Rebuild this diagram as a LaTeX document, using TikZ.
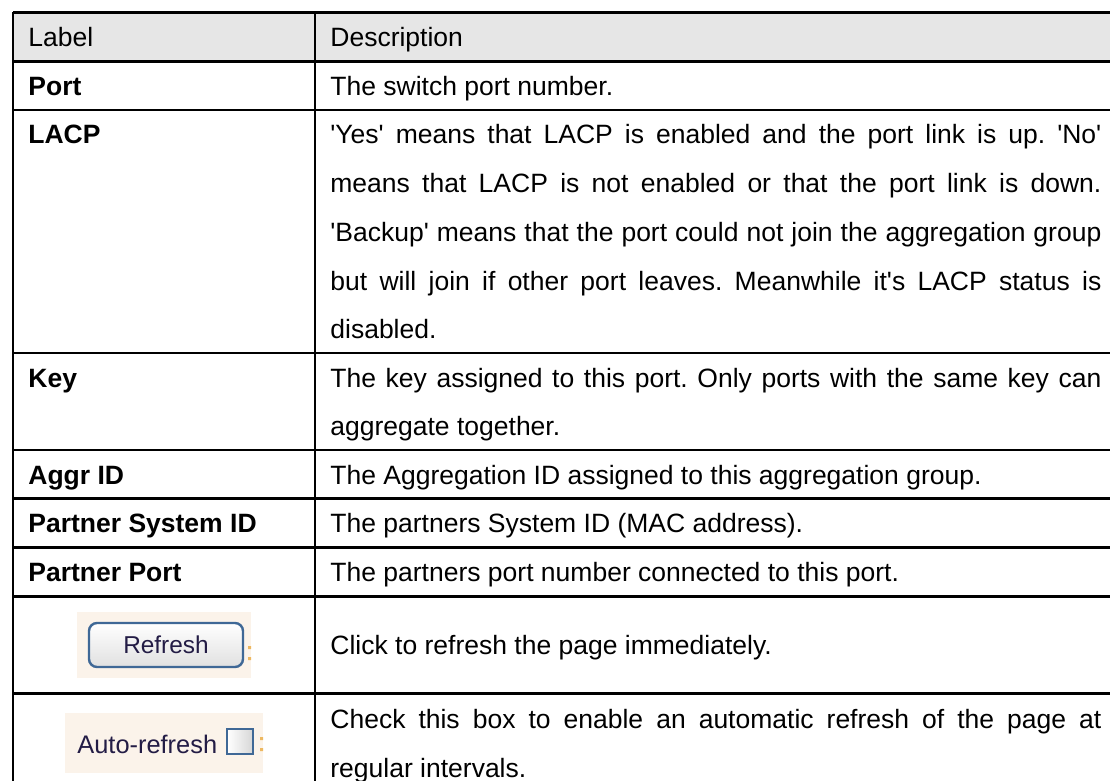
\documentclass[tikz,border=0pt]{standalone}
\usepackage{fontspec}
\setmainfont{Liberation Sans}[Ligatures=TeXOff]
\frenchspacing
\definecolor{hdgray}{HTML}{E6E6E6}
\definecolor{shotbg}{HTML}{FBF3EA}
\definecolor{btnblue}{HTML}{3F6896}
\definecolor{btntext}{HTML}{231C45}
\definecolor{colonorg}{HTML}{EDB860}
\newcommand{\jline}[1]{\makebox[385.5pt][s]{#1}}
\tikzset{
  cell/.style={anchor=base west, inner sep=0, font=\fontsize{13.25pt}{24pt}\selectfont},
  lbl/.style={cell, font=\fontsize{13.25pt}{24pt}\selectfont\bfseries},
  rule/.style={line width=1.4pt},
  shot/.style={fill=shotbg, draw=none},
}

\begin{document}
\begin{tikzpicture}[x=0.5pt, y=-0.5pt]
\useasboundingbox (0,0) rectangle (1110,781);
\clip (0,0) rectangle (1110,781);
% Header
\fill[hdgray] (13,12.7) rectangle (1120,61.3);
\node[cell] (hdlabel) at (28,46.7) {Label};
\node[cell] (hddesc) at (330,46.7) {Description};
% Labels
\node[lbl] (lport) at (28,95.3) {Port};
\node[lbl] (llacp) at (28,144) {LACP};
\node[lbl] (lkey) at (28,387) {Key};
\node[lbl] (laggr) at (28,484) {Aggr ID};
\node[lbl] (lpsys) at (28,532.5) {Partner System ID};
\node[lbl] (lpport) at (28,581.3) {Partner Port};
% Descriptions
\node[cell] (dport) at (330,95.3) {The switch port number.};
\node[cell] (dlacp1) at (330,144) {\jline{'Yes' means that LACP is enabled and the port link is up. 'No'}};
\node[cell] (dlacp2) at (330,192.7) {\jline{means that LACP is not enabled or that the port link is down.}};
\node[cell] (dlacp3) at (330,241.4) {\jline{'Backup' means that the port could not join the aggregation group}};
\node[cell] (dlacp4) at (330,290.1) {\jline{but will join if other port leaves. Meanwhile it's LACP status is}};
\node[cell] (dlacp5) at (330,338.8) {disabled.};
\node[cell] (dkey1) at (330,387) {\jline{The key assigned to this port. Only ports with the same key can}};
\node[cell] (dkey2) at (330,435.7) {aggregate together.};
\node[cell] (daggr) at (330,484) {The Aggregation ID assigned to this aggregation group.};
\node[cell] (dpsys) at (330,532.5) {The partners System ID (MAC address).};
\node[cell] (dpport) at (330,581.3) {The partners port number connected to this port.};
\node[cell] (drefresh) at (330,654.7) {Click to refresh the page immediately.};
\node[cell] (dauto1) at (330,728.5) {\jline{Check this box to enable an automatic refresh of the page at}};
\node[cell] (dauto2) at (330,777.2) {regular intervals.};
% Screenshots
\path[shot] (77,612) rectangle (251,678);
\shade[draw=btnblue, line width=1.2pt, rounded corners=4pt, top color=white, bottom color=black!12]
  (89,623) rectangle (243,667);
\node[anchor=base, inner sep=0, text=btntext, font=\fontsize{12.2pt}{14pt}\selectfont] (brefresh) at (166,653) {Refresh};
\fill[colonorg] (248,646) rectangle (251,649) (248,657) rectangle (251,660);
\path[shot] (65,713) rectangle (263,773);
\node[anchor=base west, inner sep=0, text=btntext, font=\fontsize{12.7pt}{14pt}\selectfont] (lauto) at (77,753) {Auto-refresh};
\shade[draw=btnblue, line width=1.2pt, left color=white, right color=black!16] (227,729) rectangle (253,754);
\fill[colonorg] (260,737) rectangle (263,740) (260,748) rectangle (263,751);
% Rules
\foreach \y in {12.7,61.3,110,353,450,498.5,547.3,596.5,693.5}
  \draw[rule] (13,\y) -- (1120,\y);
\draw[rule] (13,12) -- (13,800);
\draw[rule] (315,12) -- (315,800);
\end{tikzpicture}
\end{document}
